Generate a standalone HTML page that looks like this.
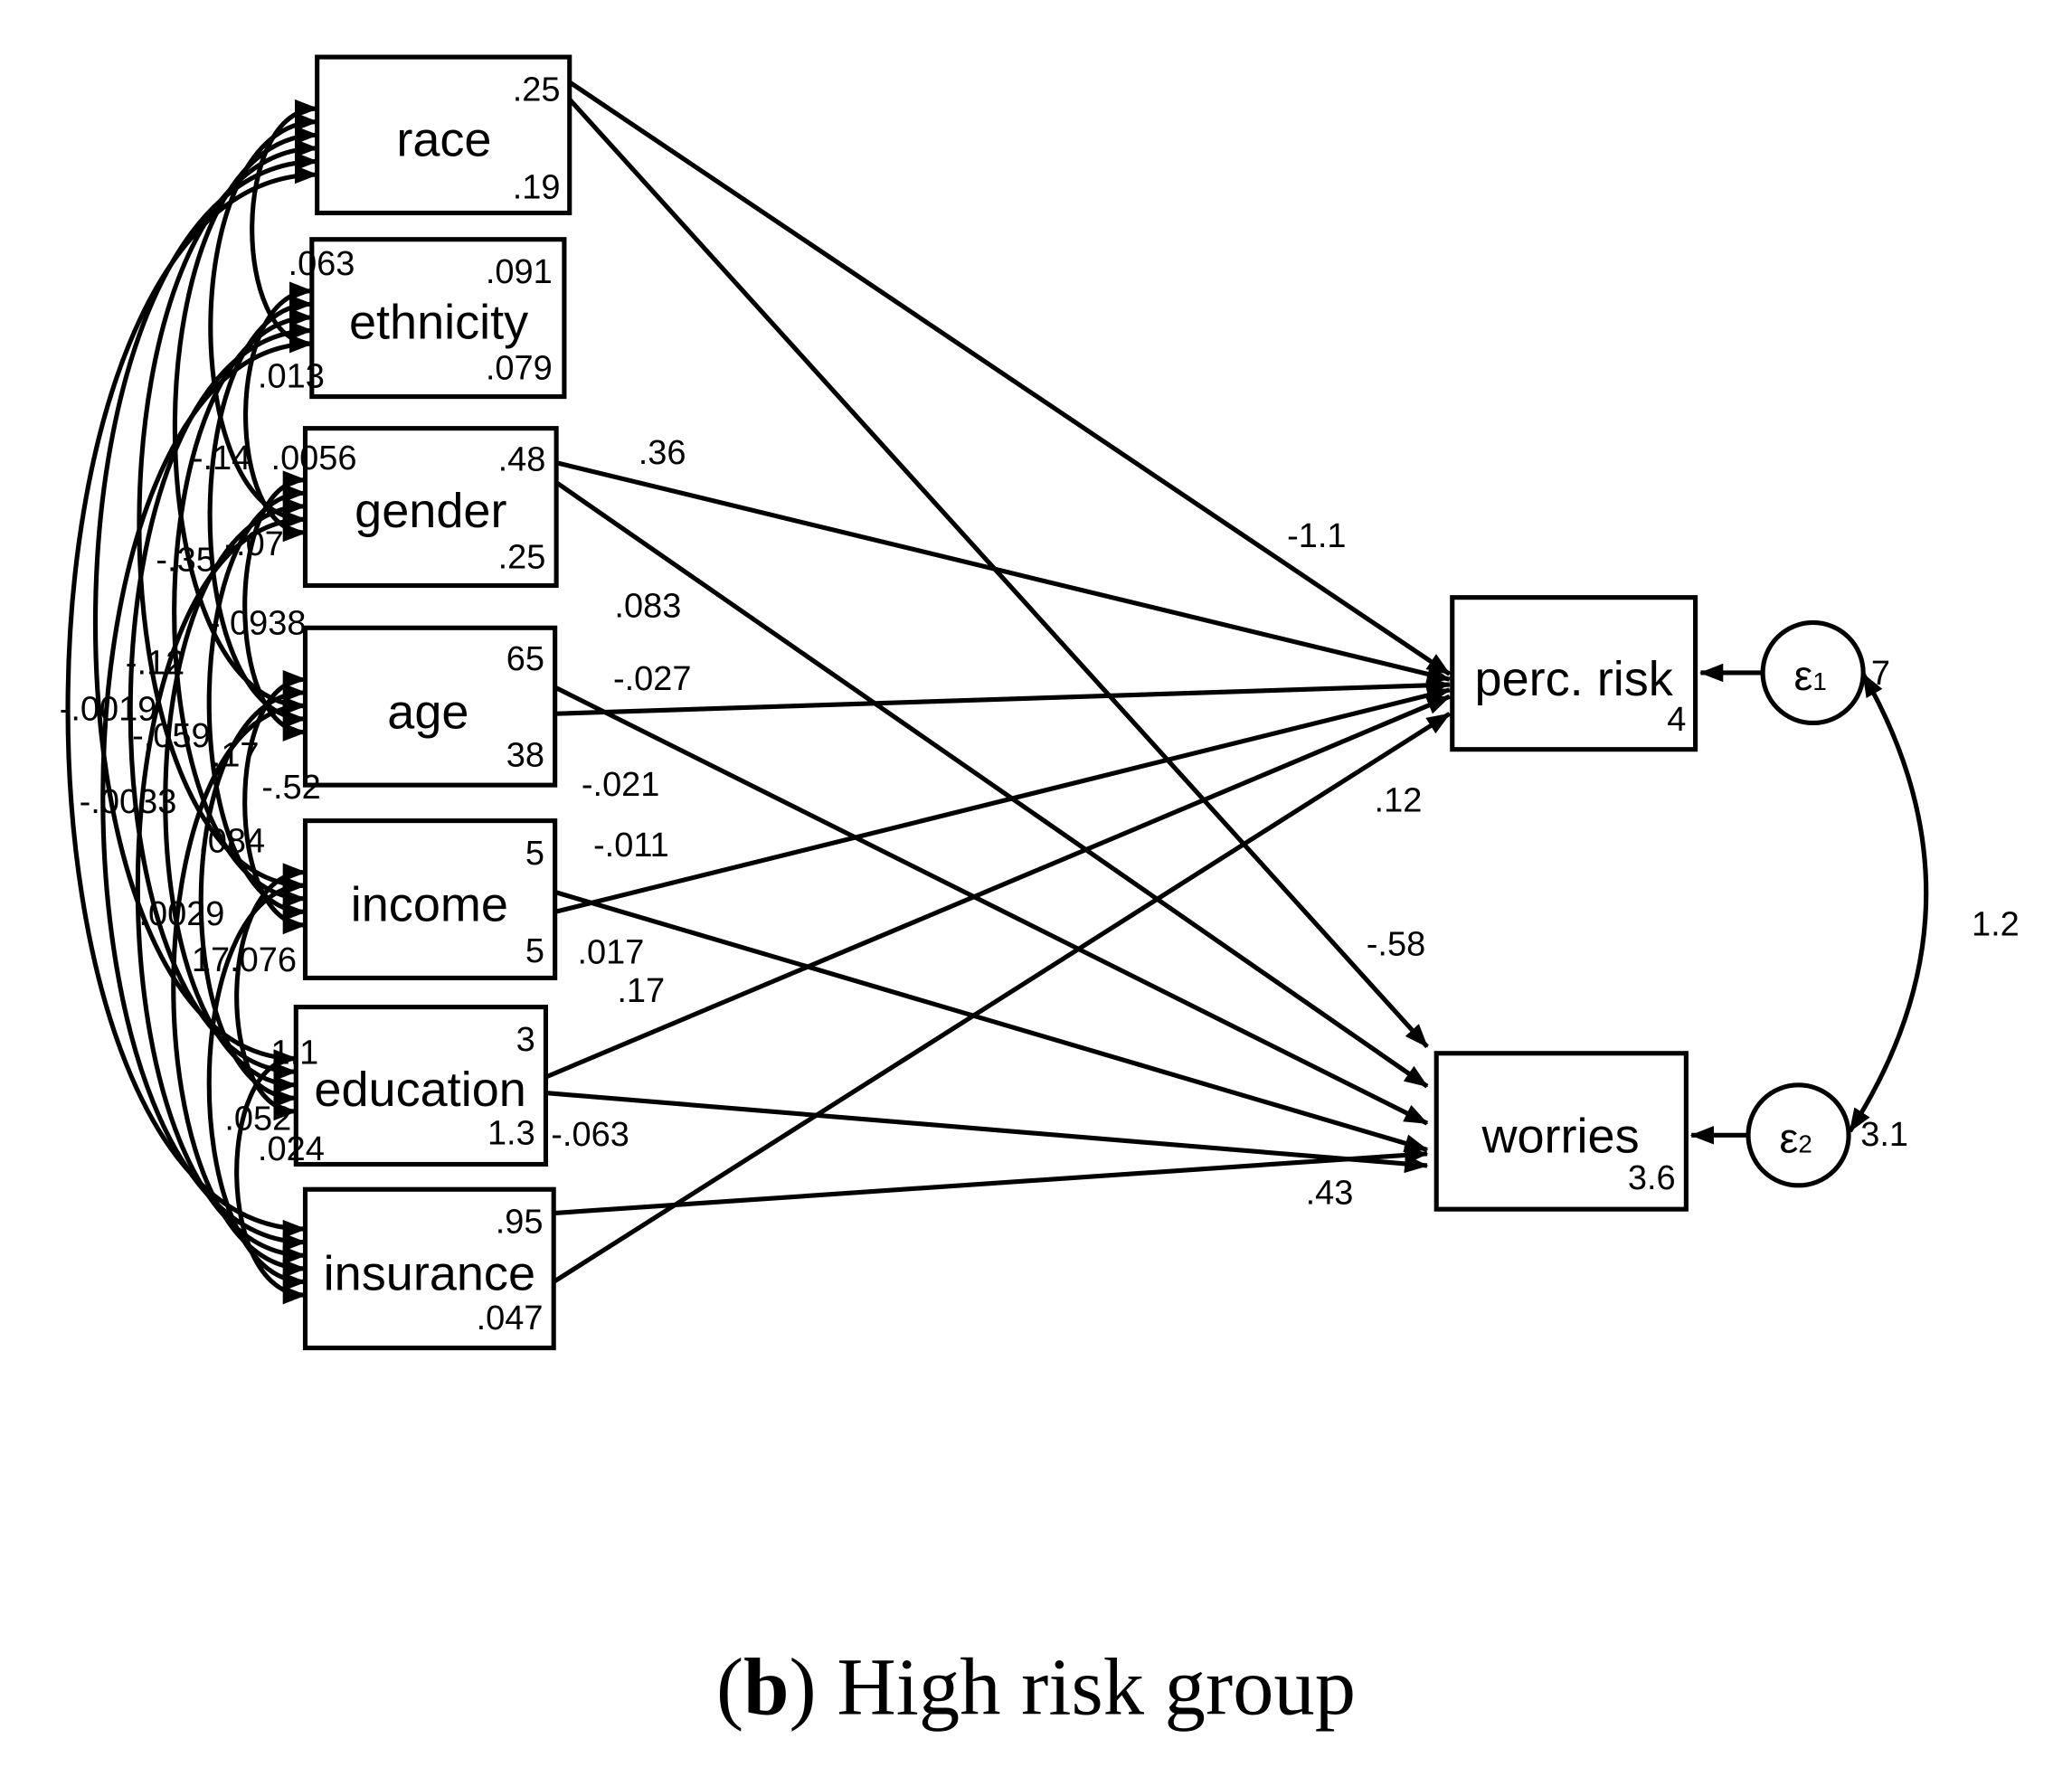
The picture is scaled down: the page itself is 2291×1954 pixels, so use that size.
<!DOCTYPE html>
<html><head><meta charset="utf-8"><style>
html,body{margin:0;padding:0;background:#fff}
svg{display:block}
text{font-family:"Liberation Sans",Arial,sans-serif;fill:#000}
</style></head><body>
<svg id="s" width="2291" height="1954" viewBox="0 0 1568 1337" xmlns="http://www.w3.org/2000/svg">
<defs>
<marker id="b" markerWidth="18" markerHeight="14" refX="17" refY="7" orient="auto" markerUnits="userSpaceOnUse" viewBox="0 0 18 14"><path d="M0,0 L18,7 L0,14 z" fill="#000"/></marker>
<marker id="bs" markerWidth="18" markerHeight="14" refX="1" refY="7" orient="auto" markerUnits="userSpaceOnUse" viewBox="0 0 18 14"><path d="M18,0 L0,7 L18,14 z" fill="#000"/></marker></defs>
<g id="arcs" fill="none" stroke="#000" stroke-width="3.5"></g>
<g fill="#fff" stroke="#000" stroke-width="3.5">
<rect x="240" y="43" width="191" height="118"/>
<rect x="236" y="181" width="191" height="119"/>
<rect x="231" y="324" width="190" height="119"/>
<rect x="231" y="475" width="189" height="119"/>
<rect x="231" y="621" width="189" height="119"/>
<rect x="224" y="762" width="189" height="119"/>
<rect x="231" y="900" width="188" height="120"/>
<rect x="1099" y="452" width="184" height="115"/>
<rect x="1087" y="797" width="189" height="118"/>
<circle cx="1372" cy="509" r="38"/>
<circle cx="1361" cy="859" r="38"/>
</g>
<g stroke="#000" stroke-width="3.5" fill="none" marker-end="url(#b)">
<line x1="431" y1="62" x2="1097" y2="510"/>
<line x1="431" y1="75" x2="1080" y2="792"/>
<line x1="421" y1="350" x2="1097" y2="514"/>
<line x1="421" y1="365" x2="1080" y2="822"/>
<line x1="420" y1="540" x2="1097" y2="518"/>
<line x1="420" y1="520" x2="1080" y2="850"/>
<line x1="420" y1="690" x2="1097" y2="522"/>
<line x1="420" y1="675" x2="1080" y2="870"/>
<line x1="413" y1="815" x2="1097" y2="527"/>
<line x1="413" y1="827" x2="1080" y2="882"/>
<line x1="419" y1="918" x2="1080" y2="873"/>
<line x1="419" y1="970" x2="1097" y2="540"/>
<line x1="1334" y1="509" x2="1287" y2="509"/>
<line x1="1323" y1="859" x2="1280" y2="859"/>
<path d="M1410,510 Q1510,685 1400,856" marker-start="url(#bs)"/>
</g>
<g font-size="37" text-anchor="middle">
<text x="336" y="118">race</text><text x="332" y="256">ethnicity</text><text x="326" y="399">gender</text>
<text x="324" y="551">age</text><text x="325" y="697">income</text><text x="318" y="837">education</text>
<text x="325" y="976">insurance</text><text x="1191" y="526">perc. risk</text><text x="1181" y="872">worries</text>
</g>
<g font-size="32" text-anchor="middle"><text x="1370" y="522">ε<tspan font-size="19">1</tspan></text><text x="1359" y="872">ε<tspan font-size="19">2</tspan></text></g>
<g font-size="26" text-anchor="end">
<text x="424" y="76">.25</text><text x="424" y="150">.19</text><text x="418" y="214">.091</text><text x="418" y="287">.079</text>
<text x="413" y="356">.48</text><text x="413" y="430">.25</text><text x="412" y="507">65</text><text x="412" y="580">38</text>
<text x="412" y="654">5</text><text x="412" y="728">5</text><text x="405" y="795">3</text><text x="405" y="866">1.3</text>
<text x="411" y="933">.95</text><text x="411" y="1006">.047</text><text x="1276" y="553">4</text><text x="1268" y="900">3.6</text>
</g>
<g font-size="26">
<text x="483" y="351">.36</text><text x="974" y="414">-1.1</text><text x="465" y="467">.083</text><text x="464" y="522">-.027</text>
<text x="440" y="602">-.021</text><text x="1040" y="614">.12</text><text x="449" y="648">-.011</text><text x="1034" y="723">-.58</text>
<text x="437" y="729">.017</text><text x="467" y="758">.17</text><text x="417" y="867">-.063</text><text x="988" y="911">.43</text>
<text x="1492" y="708">1.2</text><text x="1416" y="518">7</text><text x="1408" y="867">3.1</text>
<text x="218" y="208">.063</text><text x="195" y="293">.013</text><text x="145" y="355">-.14</text><text x="205" y="355">.0056</text>
<text x="118" y="432">-.35</text><text x="170" y="420">-.07</text><text x="158" y="480">-.0938</text><text x="95" y="510">-.12</text>
<text x="45" y="545">-.0019</text><text x="100" y="565">-.059</text><text x="160" y="580">.17</text><text x="198" y="604">-.52</text>
<text x="60" y="615">-.0033</text><text x="150" y="645">.084</text><text x="105" y="700">.0029</text><text x="145" y="735">17.076</text>
<text x="205" y="805">1.1</text><text x="170" y="855">.052</text><text x="195" y="878">.024</text>
</g>
<text x="784" y="1297" font-size="62" text-anchor="middle" style="font-family:'Liberation Serif',serif">(<tspan font-weight="bold">b</tspan>) High risk group</text>
<script>
var L=[[240,102],[236,240],[231,383],[231,534],[231,680],[224,821],[231,960]];
var g=document.getElementById('arcs'),ns='http://www.w3.org/2000/svg';
for(var i=0;i<7;i++)for(var j=i+1;j<7;j++){
 var a=L[i],b=L[j],d=j-i;
 var y1=a[1]+(d-3)*10,y2=b[1]-(d-3)*10;
 var bx=Math.min(a[0],b[0])-25-d*36;
 var p=document.createElementNS(ns,'path');
 p.setAttribute('d','M'+a[0]+','+y1+' C'+bx+','+y1+' '+bx+','+y2+' '+b[0]+','+y2);
 p.setAttribute('marker-start','url(#bs)');p.setAttribute('marker-end','url(#b)');
 g.appendChild(p);}
</script>
</svg>
</body></html>
